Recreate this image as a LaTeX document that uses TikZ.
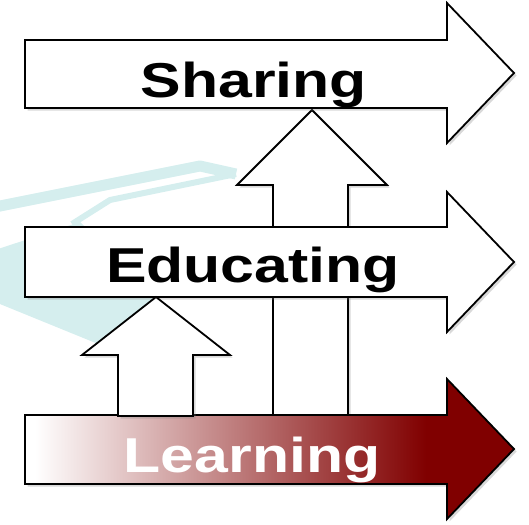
\documentclass[tikz,border=0pt]{standalone}
\usepackage{fontspec}
\newfontfamily\arrowfont[FakeStretch=1.24]{Liberation Sans}
\usetikzlibrary{shadows}
\definecolor{wmcyan}{RGB}{213,238,238}
\definecolor{darkred}{RGB}{128,0,0}
\pgfdeclarehorizontalshading{learnshade}{100bp}{color(0bp)=(white); color(26bp)=(white); color(66bp)=(darkred); color(100bp)=(darkred)}
\tikzset{
  block/.style={draw=black, line width=1.8pt, fill=white, line join=miter,
    drop shadow={opacity=0.3, shadow xshift=2.5pt, shadow yshift=-2.5pt}},
  word/.style={font=\arrowfont\bfseries\fontsize{49}{55}\selectfont, anchor=base, inner sep=0pt},
}

\begin{document}
\begin{tikzpicture}[x=1pt,y=-1pt]
	\useasboundingbox (0,0) rectangle (529,524);
	%WATERMARK
	\draw[wmcyan, line width=11pt, line join=round] (-5,207) -- (200,166) -- (236,174);
	\draw[wmcyan, line width=6pt, line join=round] (236,174) -- (110,200) -- (72,224);
	\fill[wmcyan] (-5,250) -- (80,222) -- (160,297) -- (130,357) -- (-5,302) -- cycle;
	%UP ARROW TO SHARING
	\draw[block] (273,415) -- (273,185) -- (237,185) -- (312,110) -- (387,185) -- (348,185) -- (348,415);
	%SHARING
	\draw[block] (25,40) -- (447,40) -- (447,3) -- (514,73) -- (447,143) -- (447,108) -- (25,108) -- cycle;
	%EDUCATING
	\draw[block] (25,227) -- (447,227) -- (447,192) -- (514,262) -- (447,332) -- (447,297) -- (25,297) -- cycle;
	%LEARNING
	\draw[block, shading=learnshade] (25,415) -- (447,415) -- (447,379) -- (514,449) -- (447,519) -- (447,484) -- (25,484) -- cycle;
	%UP ARROW TO EDUCATING
	\draw[block] (118,416) -- (118,355) -- (82,355) -- (156,297) -- (230,355) -- (193,355) -- (193,416) -- cycle;
	%LABELS
	\node[word] (sharing) at (254,97) {Sharing};
	\node[word] (educating) at (253,282) {Educating};
	\node[word, text=white] (learning) at (252,472) {Learning};
\end{tikzpicture}
\end{document}
